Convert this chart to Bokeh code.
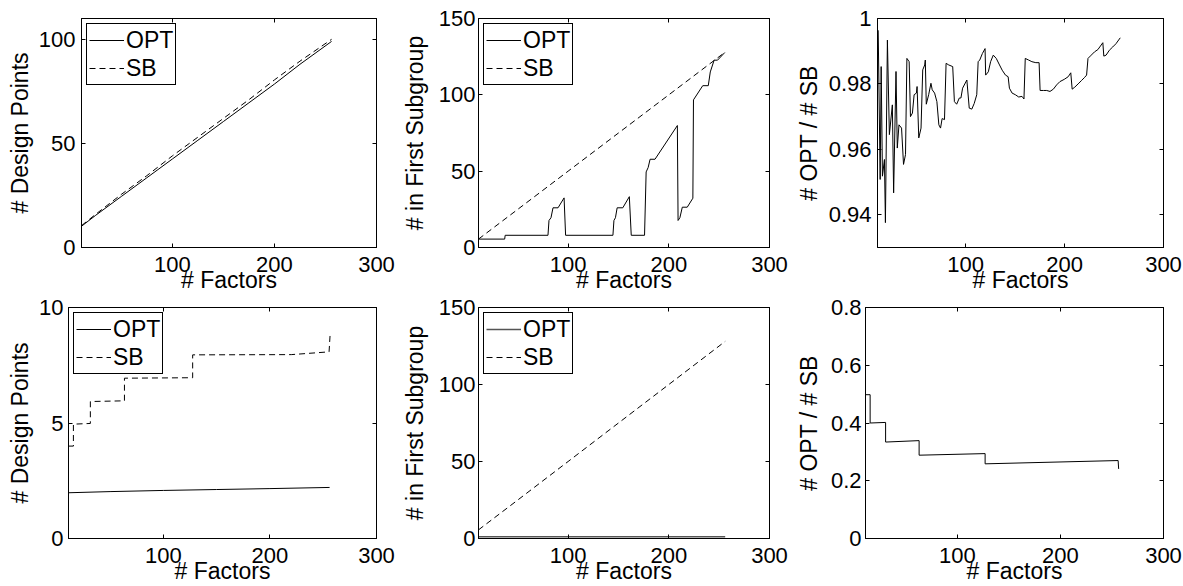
from bokeh.plotting import figure
from bokeh.models import Range1d, FixedTicker, LinearAxis, Legend, LegendItem
from bokeh.layouts import row, column
from bokeh.embed import file_html
from bokeh.resources import INLINE

# ---------------- data ----------------
x_ticks = [100, 200, 300]

# top-left: design points
x1 = [11, 25, 50, 75, 100, 125, 150, 175, 200, 225, 256]
opt1 = [10.2, 15.5, 24.5, 33.5, 42.5, 51.5, 60.5, 69.5, 78.5, 88.0, 99.0]
sb1 = [10.5, 16.0, 25.5, 34.5, 44.0, 53.0, 62.0, 71.0, 80.5, 89.5, 100.0]

# top-middle: number in first subgroup
x2_opt = [11, 37, 37.5, 80, 81, 83, 85, 90, 96, 97.5,
          144.5, 145.5, 147, 148.7, 154.3, 160.8, 162.7,
          175.9, 177.5, 179.5, 181.4, 186.3, 208.5, 209.2, 211, 213.4, 218.3,
          223.9, 224.5, 233.7, 239.2, 241.2, 245, 248.4, 255.6]
y2_opt = [5.5, 5.5, 8, 8, 17.7, 19.5, 26, 26, 32.5, 8,
          8, 17.7, 19.5, 26, 26, 33.3, 8,
          8, 49.5, 52.4, 57.8, 57.8, 79.9, 17.7, 19.5, 26.4, 26.4,
          32.3, 96.7, 106, 106, 115, 122.7, 122.7, 127.7]
x2_sb = [11, 50, 100, 150, 200, 256]
y2_sb = [5.5, 25, 50, 75, 100, 128]

# top-right: ratio OPT / SB
x3 = [11.7, 13.7, 14.7, 16, 18, 19, 21, 23, 26, 27.3, 29.7, 31, 32.7, 35.3, 37.3,
      39.3, 40.7, 43, 44.3, 46.3, 48, 50.3, 51, 52.7, 55, 56.7, 58.7, 59.3, 60.3,
      62.7, 65, 66.3, 68.7, 71, 73, 74.7, 76.3, 78.7, 80.3, 83, 87, 88.7, 91, 93.7,
      95.3, 97, 101.3, 103.7, 106.3, 108.7, 111.3, 112.7, 114.3, 117, 119.7, 120.3,
      123, 125.3, 128, 131, 134.3, 137, 140.3, 143, 144.3, 147, 150.3, 153.7, 157,
      159, 160.3, 163.7, 167, 171, 174.3, 175.3, 178.7, 182, 185.3, 188.7, 192,
      195.3, 199.7, 203.7, 206.3, 207.7, 210.3, 213.7, 217, 220.3, 222.3, 223.7,
      227, 230.3, 233.7, 238.7, 239.7, 242, 245.3, 248.7, 252, 256.3]
r3 = [0.9964, 0.9508, 0.9853, 0.9518, 0.9569, 0.9376, 0.9934, 0.9645, 0.9736,
      0.9467, 0.9838, 0.9604, 0.9675, 0.9665, 0.9554, 0.9584, 0.9878, 0.9868,
      0.9700, 0.9711, 0.9767, 0.9772, 0.9792, 0.9635, 0.9665, 0.9843, 0.9858,
      0.9873, 0.9738, 0.9767, 0.9802, 0.9782, 0.9772, 0.9746, 0.9675, 0.9665,
      0.9694, 0.9691, 0.9863, 0.9858, 0.9853, 0.9746, 0.9738, 0.9757, 0.9757,
      0.9787, 0.9812, 0.9726, 0.9723, 0.9740, 0.9767, 0.9868, 0.9873, 0.9893,
      0.9908, 0.9827, 0.9837, 0.9868, 0.9888, 0.9878, 0.9858, 0.9842, 0.9827,
      0.9822, 0.9787, 0.9772, 0.9767, 0.9760, 0.9762, 0.9754, 0.9878, 0.9873,
      0.9868, 0.9865, 0.9865, 0.9780, 0.9780, 0.9780, 0.9777, 0.9784, 0.9797,
      0.9807, 0.9814, 0.9822, 0.9834, 0.9784, 0.9790, 0.9800, 0.9810, 0.9820,
      0.9827, 0.9878, 0.9888, 0.9898, 0.9905, 0.9926, 0.9885, 0.9888, 0.9903,
      0.9913, 0.9923, 0.9941]

# bottom-left: design points
x4_opt = [11, 50, 100, 150, 200, 256]
y4_opt = [1.98, 2.03, 2.08, 2.12, 2.16, 2.21]
x4_sb = [11, 15.6, 15.6, 31.5, 31.5, 63.5, 63.5, 127.5, 127.5, 220, 255.5, 256.5]
y4_sb = [4.0, 4.0, 4.95, 4.98, 5.93, 5.96, 6.94, 6.96, 7.95, 7.96, 8.08, 8.85]

# bottom-middle: number in first subgroup
x5_opt = [11, 100, 200, 256]
y5_opt = [1.2, 1.2, 1.2, 1.2]
x5_sb = [11, 50, 100, 150, 200, 256]
y5_sb = [5.6, 25, 50, 75, 100, 128]

# bottom-right: ratio OPT / SB
x6 = [11, 15.5, 15.5, 30.5, 30.5, 63, 63, 127, 127, 256, 256.5]
r6 = [0.498, 0.498, 0.400, 0.402, 0.334, 0.339, 0.2885, 0.294, 0.2586, 0.270, 0.241]

# ---------------- styling helpers ----------------
FONT = "Liberation Sans"
TICK_FS = "22px"
LAB_FS = "23px"
DASH = "6 4"


def style_axis(ax, standoff, lab_standoff):
    ax.axis_line_color = "black"
    ax.axis_line_width = 1
    ax.major_tick_in = 4
    ax.major_tick_out = 0
    ax.major_tick_line_color = "black"
    ax.minor_tick_line_color = None
    ax.major_label_text_font = FONT
    ax.major_label_text_font_size = TICK_FS
    ax.major_label_text_color = "black"
    ax.major_label_standoff = standoff
    ax.axis_label_text_font = FONT
    ax.axis_label_text_font_size = LAB_FS
    ax.axis_label_text_font_style = "normal"
    ax.axis_label_text_color = "black"
    ax.axis_label_standoff = lab_standoff


def make_panel(width, height, bl, br, bt, bb, yr, yticks, ylabel,
               xs, xls, ys, yls, overrides=None):
    p = figure(width=width, height=height,
               x_range=Range1d(11, 300), y_range=Range1d(*yr),
               output_backend="svg", toolbar_location=None,
               min_border_left=bl, min_border_right=br,
               min_border_top=bt, min_border_bottom=bb,
               x_axis_label="# Factors", y_axis_label=ylabel)
    p.xgrid.visible = False
    p.ygrid.visible = False
    p.outline_line_color = "black"
    p.outline_line_alpha = 1
    p.outline_line_width = 1
    p.background_fill_color = "white"
    p.border_fill_color = "white"
    xa = p.xaxis[0]
    ya = p.yaxis[0]
    xa.ticker = FixedTicker(ticks=x_ticks)
    ya.ticker = FixedTicker(ticks=yticks)
    style_axis(xa, xs, xls)
    style_axis(ya, ys, yls)
    if overrides:
        ya.major_label_overrides = overrides
    # ticks on top and right (box on)
    top = LinearAxis(ticker=FixedTicker(ticks=x_ticks))
    right = LinearAxis(ticker=FixedTicker(ticks=yticks))
    for ax in (top, right):
        ax.axis_line_color = "black"
        ax.major_tick_in = 4
        ax.major_tick_out = 0
        ax.major_tick_line_color = "black"
        ax.minor_tick_line_color = None
        ax.major_label_text_color = None
        ax.major_label_text_font_size = "1px"
        ax.major_label_standoff = 0
    p.add_layout(top, "above")
    p.add_layout(right, "right")
    return p


def add_legend(p, r_opt, r_sb):
    leg = Legend(items=[LegendItem(label="OPT", renderers=[r_opt]),
                        LegendItem(label="SB", renderers=[r_sb])],
                 location="top_left")
    leg.margin = 5
    leg.padding = 2
    leg.spacing = 0
    leg.glyph_width = 35
    leg.glyph_height = 28
    leg.label_height = 28
    leg.label_width = 44
    leg.label_standoff = 2
    leg.label_text_font = FONT
    leg.label_text_font_size = LAB_FS
    leg.label_text_color = "black"
    leg.border_line_color = "black"
    leg.border_line_width = 1
    leg.border_line_alpha = 1
    leg.background_fill_color = "white"
    leg.background_fill_alpha = 1
    p.add_layout(leg)


H1, H2 = 295, 291
W1, W2, W3 = 398, 394, 391

# ---------------- top row ----------------
p1 = make_panel(W1, H1, 81, 22, 18, 48, (0, 110), [0, 50, 100], "# Design Points",
                9, -8, 6, 3)
a = p1.line(x1, opt1, line_color="black", line_width=1)
b = p1.line(x1, sb1, line_color="black", line_width=1, line_dash=DASH)
add_legend(p1, a, b)

p2 = make_panel(W2, H1, 76, 23, 18, 48, (0, 150), [0, 50, 100, 150], "# in First Subgroup",
                9, -8, 3, 8)
a = p2.line(x2_opt, y2_opt, line_color="black", line_width=1)
b = p2.line(x2_sb, y2_sb, line_color="black", line_width=1, line_dash=DASH)
add_legend(p2, a, b)

p3 = make_panel(W3, H1, 82, 20, 18, 48, (0.93, 1.0), [0.94, 0.96, 0.98, 1.0], "# OPT / # SB",
                9, -8, 6, 4, overrides={1: "1"})
p3.line(x3, r3, line_color="black", line_width=1)

# ---------------- bottom row ----------------
p4 = make_panel(W1, H2, 68, 22, 12, 48, (0, 10), [0, 5, 10], "# Design Points",
                9, -8, 5, 3)
a = p4.line(x4_opt, y4_opt, line_color="black", line_width=1)
b = p4.line(x4_sb, y4_sb, line_color="black", line_width=1, line_dash=DASH)
add_legend(p4, a, b)

p5 = make_panel(W2, H2, 76, 23, 12, 48, (0, 150), [0, 50, 100, 150], "# in First Subgroup",
                9, -8, 3, 8)
a = p5.line(x5_opt, y5_opt, line_color="#555555", line_width=1.5)
b = p5.line(x5_sb, y5_sb, line_color="black", line_width=1, line_dash=DASH)
add_legend(p5, a, b)

p6 = make_panel(W3, H2, 70, 20, 12, 48, (0, 0.8), [0, 0.2, 0.4, 0.6, 0.8], "# OPT / # SB",
                9, -8, 4, 6, overrides={0: "0"})
p6.line(x6, r6, line_color="black", line_width=1)

layout = column(row(p1, p2, p3), row(p4, p5, p6))

open("out.html", "w").write(file_html(layout, INLINE))
